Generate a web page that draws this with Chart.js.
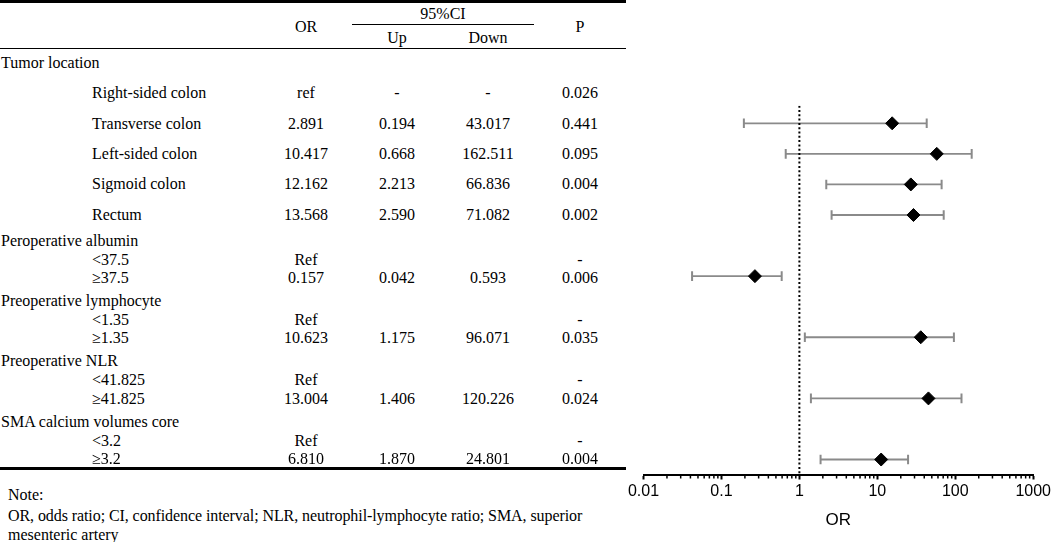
<!DOCTYPE html>
<html><head><meta charset="utf-8">
<script src="https://cdn.jsdelivr.net/npm/chart.js@4.4.1/dist/chart.umd.min.js"></script>
<style>
html,body{margin:0;padding:0;background:#fff;width:1053px;height:542px;overflow:hidden;}
#wrap{position:relative;width:1053px;height:542px;}
.t{position:absolute;font-family:"Liberation Serif","Times New Roman","Noto Sans CJK SC",serif;font-size:16px;line-height:20px;height:20px;color:#000;white-space:nowrap;}
.c{transform:translateX(-50%);}
.rule{position:absolute;background:#000;}
#plot{position:absolute;left:620px;top:0;width:433px;height:542px;}
</style></head>
<body><div id="wrap"><canvas id="plot" width="433" height="542"></canvas></div>
<script>
// ---------- table data ----------
const headerCols = ["OR", "Up", "Down", "P"];
const ciHeader = "95%CI";
const rowLabels = ["Tumor location","Right-sided colon","Transverse colon","Left-sided colon","Sigmoid colon","Rectum",
  "Peroperative albumin","<37.5","≥37.5",
  "Preoperative lymphocyte","<1.35","≥1.35",
  "Preoperative NLR","<41.825","≥41.825",
  "SMA calcium volumes core","<3.2","≥3.2"];
const rowIsGroup = [1,0,0,0,0,0, 1,0,0, 1,0,0, 1,0,0, 1,0,0];
const orText   = ["","ref","2.891","10.417","12.162","13.568", "","Ref","0.157", "","Ref","10.623", "","Ref","13.004", "","Ref","6.810"];
const upText   = ["","-","0.194","0.668","2.213","2.590", "","","0.042", "","","1.175", "","","1.406", "","","1.870"];
const downText = ["","-","43.017","162.511","66.836","71.082", "","","0.593", "","","96.071", "","","120.226", "","","24.801"];
const pText    = ["","0.026","0.441","0.095","0.004","0.002", "","-","0.006", "","-","0.035", "","-","0.024", "","-","0.004"];
const noteLines = ["Note:","OR, odds ratio; CI, confidence interval; NLR, neutrophil-lymphocyte ratio; SMA, superior","mesenteric artery"];

// ---------- plot data ----------
const plotRows  = ["Transverse colon","Left-sided colon","Sigmoid colon","Rectum","≥37.5","≥1.35","≥41.825","≥3.2"];
const plotSlot  = [1,2,3,4,6,8,10,12];
const plotPoint = [15.5,57.9,26.9,29.1,0.269,36.1,45.3,11.2];
const ciLow     = [0.194,0.668,2.213,2.590,0.042,1.175,1.406,1.870];
const ciHigh    = [43.017,162.511,66.836,71.082,0.593,96.071,120.226,24.801];
const xTicks    = [0.01,0.1,1,10,100,1000];
const refValue  = 1;
const axisTitle = "OR";

// ---------- build table (layout) ----------
const wrap = document.getElementById('wrap');
function txt(s, x, cy, center, extra){
  const d = document.createElement('div');
  d.className = 't' + (center ? ' c' : '');
  d.textContent = s;
  d.style.left = x + 'px';
  d.style.top = (cy - 10) + 'px';
  if (extra) Object.assign(d.style, extra);
  wrap.appendChild(d);
}
function rule(x, y, w, h){
  const d = document.createElement('div');
  d.className = 'rule';
  d.style.left = x + 'px'; d.style.top = y + 'px';
  d.style.width = w + 'px'; d.style.height = h + 'px';
  wrap.appendChild(d);
}
const colX = [306, 397, 488, 580];
rule(0, 0, 626, 3);
rule(352, 23.5, 182, 1.3);
rule(0, 47.5, 626, 1.5);
rule(0, 466.5, 626, 3);
txt(ciHeader, (352+534)/2, 14, true);
txt(headerCols[0], colX[0], 27, true);
txt(headerCols[1], colX[1], 38, true);
txt(headerCols[2], colX[2], 38, true);
txt(headerCols[3], colX[3], 27, true);

function rowY(i){
  if (i < 6) return 63 + 30.3 * i;
  const g = Math.floor((i - 6) / 3), k = (i - 6) % 3;
  const base = 278 + 60.4 * g;
  return k === 0 ? base - 37.5 : (k === 1 ? base - 18.5 : base);
}
rowLabels.forEach((lab, i) => {
  const y = rowY(i);
  txt(lab, rowIsGroup[i] ? 1 : 92, y, false);
  if (orText[i]) txt(orText[i], colX[0], y, true);
  if (upText[i]) txt(upText[i], colX[1], y, true);
  if (downText[i]) txt(downText[i], colX[2], y, true);
  if (pText[i]) txt(pText[i], colX[3], y, true);
});
noteLines.forEach((s, i) => txt(s, 8, [495, 516, 535][i], false, i === 1 ? {letterSpacing: '-0.08px'} : null));

// ---------- chart ----------
const yMin = 0.424, yMax = 12.49;
const datasets = [];
plotSlot.forEach((s, i) => {
  datasets.push({
    label: plotRows[i] + ' CI',
    data: [{x: ciLow[i], y: s}, {x: ciHigh[i], y: s}],
    showLine: true,
    borderColor: '#8a8a8a',
    borderWidth: 1.8,
    pointStyle: 'line',
    pointRotation: 90,
    pointRadius: 4.8,
    pointBorderColor: '#8a8a8a',
    pointBorderWidth: 2,
    order: 3
  });
});
datasets.push({
  label: 'ref',
  data: [{x: refValue, y: yMin}, {x: refValue, y: yMax}],
  showLine: true,
  borderColor: '#000',
  borderWidth: 2,
  borderDash: [2, 2.3],
  pointRadius: 0,
  order: 2
});
datasets.push({
  label: 'OR',
  data: plotSlot.map((s, i) => ({x: plotPoint[i], y: s})),
  showLine: false,
  pointStyle: 'rectRot',
  pointRadius: 6.5,
  pointBackgroundColor: '#000',
  pointBorderColor: '#000',
  pointBorderWidth: 1,
  order: 1
});

const minorTicks = {
  id: 'minorTicks',
  afterDraw(chart){
    const xs = chart.scales.x, ctx = chart.ctx, y0 = Math.round(chart.chartArea.bottom);
    ctx.save();
    ctx.strokeStyle = '#000';
    ctx.lineWidth = 1.5;
    for (let i = 0; i < xTicks.length - 1; i++){
      for (let m = 2; m <= 9; m++){
        const px = xs.getPixelForValue(xTicks[i] * m);
        ctx.beginPath();
        ctx.moveTo(px, y0);
        ctx.lineTo(px, y0 + 3.5);
        ctx.stroke();
      }
    }
    ctx.restore();
  }
};

new Chart(document.getElementById('plot'), {
  type: 'scatter',
  data: { datasets },
  options: {
    responsive: false,
    animation: false,
    devicePixelRatio: 1,
    layout: { padding: { left: 23.5, right: 19.5, top: 105.7, bottom: 0 } },
    plugins: { legend: { display: false }, tooltip: { enabled: false } },
    scales: {
      x: {
        type: 'logarithmic',
        position: 'bottom',
        min: xTicks[0],
        max: xTicks[xTicks.length - 1],
        afterBuildTicks: (scale) => { scale.ticks = xTicks.map(v => ({ value: v, major: true })); },
        afterFit: (scale) => { scale.height = 67.5; },
        grid: { display: true, drawOnChartArea: false, drawTicks: true, tickLength: 5, tickWidth: 2, tickColor: '#000' },
        border: { display: true, color: '#000', width: 2 },
        ticks: {
          autoSkip: false, maxRotation: 0, padding: 2, color: '#000',
          font: { family: 'Liberation Sans, Arial, sans-serif', size: 16 },
          callback: (v) => String(v)
        },
        title: {
          display: true, text: axisTitle, color: '#000',
          font: { family: 'Liberation Sans, Arial, sans-serif', size: 17 },
          padding: { top: 0, bottom: 11 }
        }
      },
      y: {
        type: 'linear', display: false, reverse: true, min: yMin, max: yMax
      }
    }
  },
  plugins: [minorTicks]
});
</script>
</body></html>
